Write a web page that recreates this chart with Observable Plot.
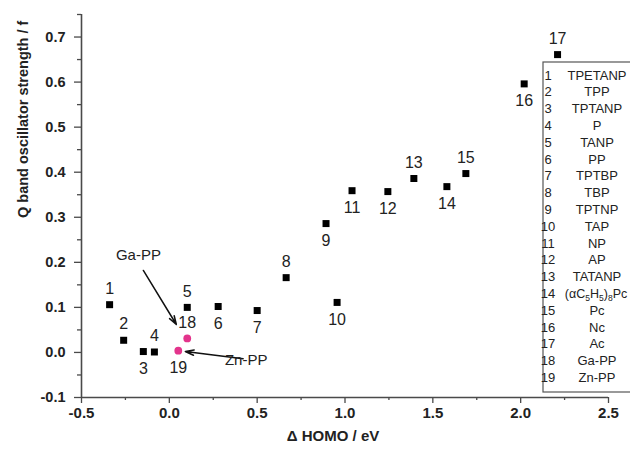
<!DOCTYPE html>
<html>
<head>
<meta charset="utf-8">
<script src="https://cdn.jsdelivr.net/npm/d3@7"></script>
<script src="https://cdn.jsdelivr.net/npm/@observablehq/plot@0.6"></script>
<style>
  html, body { margin: 0; padding: 0; background: #fff; }
</style>
</head>
<body>
<div id="chart"></div>
<script>
// ---- data ----
const ids = [1,2,3,4,5,6,7,8,9,10,11,12,13,14,15,16,17,18,19];
const names = ["TPETANP","TPP","TPTANP","P","TANP","PP","TPTBP","TBP","TPTNP","TAP","NP","AP","TATANP","(αC₅H₅)₈Pc","Pc","Nc","Ac","Ga-PP","Zn-PP"];
const deltaHOMO = [-0.34,-0.26,-0.148,-0.085,0.102,0.278,0.50,0.665,0.892,0.955,1.04,1.244,1.392,1.58,1.688,2.02,2.21,0.102,0.051];
const oscStrength = [0.106,0.027,0.002,0.001,0.100,0.102,0.093,0.166,0.286,0.111,0.359,0.357,0.386,0.368,0.397,0.596,0.661,0.031,0.004];
const groups = ["ref","ref","ref","ref","ref","ref","ref","ref","ref","ref","ref","ref","ref","ref","ref","ref","ref","metal","metal"];
const labelSide = ["above","above","below","above","above","below","below","above","below","below","below","below","above","below","above","below","above","above","below"];

const xTicks = [-0.5,0.0,0.5,1.0,1.5,2.0,2.5];
const xMinor = [-0.25,0.25,0.75,1.25,1.75,2.25];
const yTicks = [-0.1,0.0,0.1,0.2,0.3,0.4,0.5,0.6,0.7];
const yMinor = [-0.05,0.05,0.15,0.25,0.35,0.45,0.55,0.65,0.75];

const annotTexts = [
  {text: "Ga-PP", x: -0.176, y: 0.215, anchor: "middle"},
  {text: "Zn-PP", x: 0.4375, y: -0.018, anchor: "start"}
];
const annotArrows = [
  {x1: -0.148, y1: 0.182, x2: 0.04, y2: 0.062},
  {x1: 0.42, y1: -0.014, x2: 0.091, y2: 0.002}
];

const xLabel = "Δ HOMO / eV";
const yLabel = "Q band oscillator strength / f";

const table = ids.map((id, i) => ({id, name: names[i], dh: deltaHOMO[i], f: oscStrength[i], group: groups[i], side: labelSide[i]}));

const font = "'Liberation Sans', Arial, Helvetica, sans-serif";
const axisColor = "#4a4a4a";

const chart = Plot.plot({
  width: 630,
  height: 455,
  marginLeft: 81,
  marginRight: 22,
  marginTop: 14,
  marginBottom: 58,
  style: {fontFamily: font, background: "#fff", overflow: "visible"},
  x: {domain: [-0.5, 2.5]},
  y: {domain: [-0.1, 0.75]},
  marks: [
    Plot.axisX(xMinor, {tickSize: 3, tickFormat: () => "", stroke: axisColor, strokeWidth: 1.3, label: null}),
    Plot.axisX(xTicks, {tickSize: 6, tickPadding: 4, tickFormat: d => d.toFixed(1), fontSize: 15, fontWeight: "bold", fill: "#222", stroke: axisColor, strokeWidth: 1.3, label: null}),
    Plot.axisY(yMinor, {tickSize: 4, tickFormat: () => "", stroke: axisColor, strokeWidth: 1.3, label: null}),
    Plot.axisY(yTicks, {tickSize: 7, tickPadding: 9, tickFormat: d => d.toFixed(1), fontSize: 14.5, fontWeight: "bold", fill: "#222", stroke: axisColor, strokeWidth: 1.3, label: null}),
    Plot.ruleY([-0.1], {stroke: axisColor, strokeWidth: 1.6}),
    Plot.ruleX([-0.5], {stroke: axisColor, strokeWidth: 1.6}),
    Plot.text([xLabel], {text: d => d, frameAnchor: "bottom", dy: 43, dx: -12, fontSize: 15, fontWeight: "bold", fill: "#222"}),
    Plot.text([yLabel], {text: d => d, frameAnchor: "left", rotate: -90, dx: -58, dy: 12, fontSize: 14.5, fontWeight: "bold", fill: "#222"}),
    Plot.arrow(annotArrows, {x1: "x1", y1: "y1", x2: "x2", y2: "y2", stroke: "#111", strokeWidth: 1.5, headLength: 9, headAngle: 35}),
    Plot.text(annotTexts, {x: "x", y: "y", text: "text", textAnchor: d => d.anchor, fontSize: 15, fill: "#222"}),
    Plot.dot(table.filter(d => d.group === "ref"), {x: "dh", y: "f", symbol: "square", r: 3.95, fill: "#000", stroke: "none"}),
    Plot.dot(table.filter(d => d.group === "metal"), {x: "dh", y: "f", symbol: "circle", r: 3.9, fill: "#e3348c", stroke: "none"}),
    Plot.text(table.filter(d => d.side === "above"), {x: "dh", y: "f", text: d => String(d.id), dy: -16, fontSize: 16, fill: "#222"}),
    Plot.text(table.filter(d => d.side === "below"), {x: "dh", y: "f", text: d => String(d.id), dy: 17, fontSize: 16, fill: "#222"})
  ]
});

// ---- legend box (list of compounds) ----
const subMap = {"₀":"0","₁":"1","₂":"2","₃":"3","₄":"4","₅":"5","₆":"6","₇":"7","₈":"8","₉":"9"};
const svg = d3.select(chart);
const lg = svg.append("g").attr("font-family", font).attr("font-size", 13).attr("fill", "#222");
const boxX = 543, boxY = 62, rowH = 16.8, firstRow = 75;
lg.append("rect").attr("x", boxX).attr("y", boxY).attr("width", 110).attr("height", 330)
  .attr("fill", "#fff").attr("stroke", "#555").attr("stroke-width", 1.2);
table.forEach((d, i) => {
  const yy = firstRow + i * rowH;
  lg.append("text").attr("x", boxX + 5).attr("y", yy).attr("dy", "0.35em").text(String(d.id));
  const t = lg.append("text").attr("x", 597).attr("y", yy).attr("dy", "0.35em").attr("text-anchor", "middle");
  if (/[₀-₉]/.test(d.name)) {
    t.attr("font-size", 12.5).attr("x", 596);
    let sub = false;
    for (const ch of d.name) {
      const isSub = ch in subMap;
      t.append("tspan")
        .attr("font-size", isSub ? 8.5 : null)
        .attr("dy", isSub && !sub ? 3 : (!isSub && sub ? -3 : null))
        .text(isSub ? subMap[ch] : ch);
      sub = isSub;
    }
  } else {
    t.text(d.name);
  }
});

document.getElementById("chart").appendChild(chart);
</script>
</body>
</html>
